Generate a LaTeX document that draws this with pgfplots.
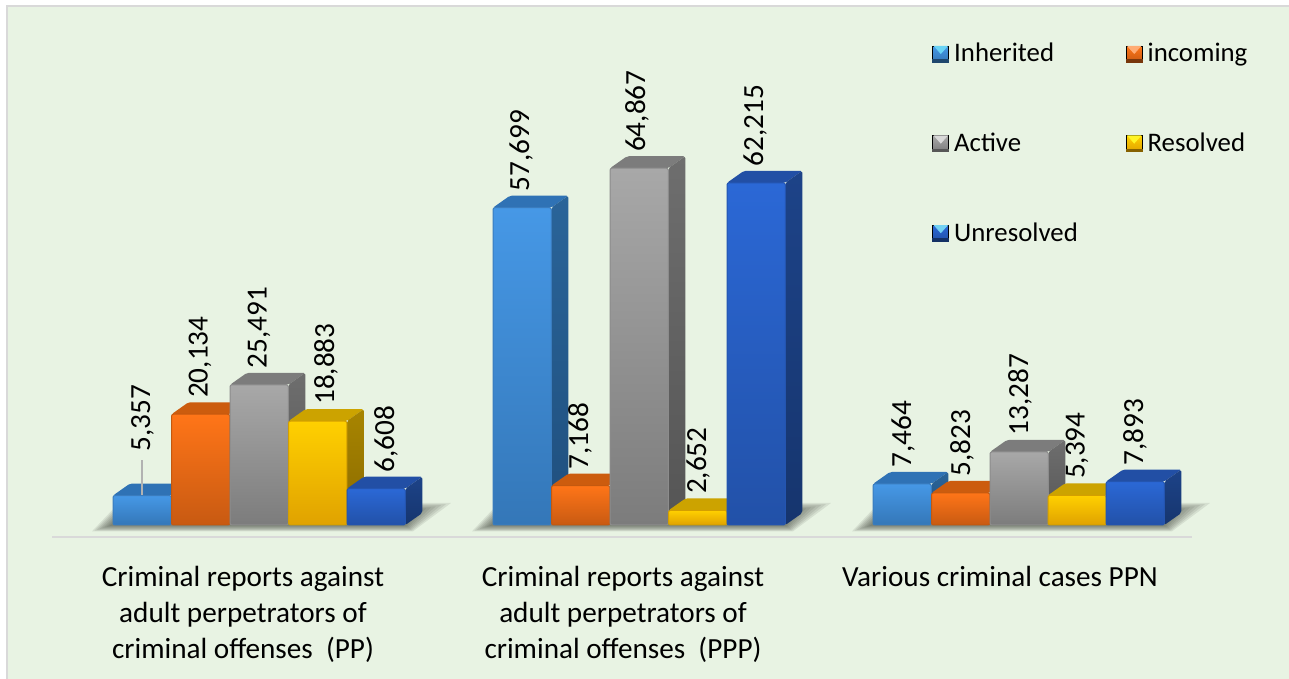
\documentclass[border=0pt]{standalone}
\usepackage{pgfplots}
\pgfplotsset{compat=1.18}
\usepackage{pgfplotstable}
\usepackage{fontspec}
\setmainfont{Carlito}
\definecolor{bgc}{HTML}{E8F3E3}
\definecolor{frame}{HTML}{D9D9D9}
\definecolor{shad}{HTML}{3C4238}
% colour sets: front top, front bottom, top face, side top, side bottom, edge
\definecolor{aFa}{HTML}{4698E6}\definecolor{aFb}{HTML}{3477B8}\definecolor{aT}{HTML}{2F72B5}\definecolor{aSa}{HTML}{2A6499}\definecolor{aSb}{HTML}{1F4F7E}\definecolor{aE}{HTML}{3A7CBE}
\definecolor{bFa}{HTML}{FF7518}\definecolor{bFb}{HTML}{C85A12}\definecolor{bT}{HTML}{CC5C0E}\definecolor{bSa}{HTML}{A84D0C}\definecolor{bSb}{HTML}{8A3F0A}\definecolor{bE}{HTML}{C4590F}
\definecolor{cFa}{HTML}{A8A8A8}\definecolor{cFb}{HTML}{7C7C7C}\definecolor{cT}{HTML}{7C7C7C}\definecolor{cSa}{HTML}{6E6E6E}\definecolor{cSb}{HTML}{555555}\definecolor{cE}{HTML}{8C8C8C}
\definecolor{dFa}{HTML}{FFD000}\definecolor{dFb}{HTML}{E0A200}\definecolor{dT}{HTML}{CCA300}\definecolor{dSa}{HTML}{A88500}\definecolor{dSb}{HTML}{8A6A00}\definecolor{dE}{HTML}{D49F00}
\definecolor{eFa}{HTML}{2B68D6}\definecolor{eFb}{HTML}{2251A8}\definecolor{eT}{HTML}{224FA5}\definecolor{eSa}{HTML}{1D4388}\definecolor{eSb}{HTML}{16356E}\definecolor{eE}{HTML}{2455B0}
% one bar: left pixel column, value in thousands, colour set
\newcommand\tdbar[3]{%
  \pgfmathsetmacro\xa{#1+58.3}\pgfmathsetmacro\xb{#1+17}\pgfmathsetmacro\xc{#1+75.3}\pgfmathsetmacro\vt{#2+2.18}%
  \edef\doit{%
    \noexpand\addplot[fill=#3T,draw=none,forget plot,rounded corners=1pt] coordinates {(#1,#2)(\xa,#2)(\xc,\vt)(\xb,\vt)} -- cycle;
    \noexpand\addplot[top color=#3Sa,bottom color=#3Sb,draw=none,forget plot,rounded corners=1pt] coordinates {(\xa,0)(\xc,2.18)(\xc,\vt)(\xa,#2)} -- cycle;
    \noexpand\addplot[top color=#3Fa,bottom color=#3Fb,draw=#3E,line width=0.5pt,forget plot,rounded corners=1pt] coordinates {(#1,0)(\xa,0)(\xa,#2)(#1,#2)} -- cycle;
  }\doit}
% soft floor shadow under a group
\newcommand\floorshadow[2]{%
  \foreach \k in {0,1,2,3,4,5,6,7}{%
    \pgfmathsetmacro\la{#1-21+2.5*\k}\pgfmathsetmacro\lb{#1+6+1.0*\k}\pgfmathsetmacro\ra{#2+8-1*\k}\pgfmathsetmacro\rb{#2+46-5*\k}%
    \pgfmathsetmacro\ya{-1.15+0.14*\k}\pgfmathsetmacro\yb{4.0-0.2*\k}%
    \edef\doit{\noexpand\fill[shad,opacity=0.11] (axis cs:\la,\ya)--(axis cs:\lb,\yb)--(axis cs:\rb,\yb)--(axis cs:\ra,\ya)--cycle;}\doit}}
\newcommand\legsq[4]{\fill[top color=#1,bottom color=#2] (0,-4pt) rectangle (8pt,4pt);
  \fill[#3] (0.8pt,4pt)--(7.2pt,4pt)--(4pt,0.4pt)--cycle;
  \fill[#4] (0,-4pt) rectangle (8pt,-2.6pt);}
\pgfplotstableread{
x v label
142.5 10.35 5,357
200 20.134 20,134
259 25.491 25,491
326 18.883 18,883
386 6.608 6,608
521 57.699 57,699
580 7.168 7,168
637 64.867 64,867
698 2.652 2,652
755 62.215 62,215
903 7.464 7,464
962 5.823 5,823
1020 13.287 13,287
1077 5.394 5,394
1135 7.893 7,893
}\labels
\begin{document}
\begin{tikzpicture}
\begin{axis}[
  scale only axis,width=570pt,height=268.5pt,
  xmin=52,xmax=1192,ymin=-2.1818,ymax=95.4545,
  clip=false,axis on top=true,no marks,
  axis x line=bottom,axis y line=none,
  axis line style={-,draw=frame,line width=1pt},
  xtick={243,623,1000},major tick length=0pt,
  xticklabels={{Criminal reports against\\adult perpetrators of\\criminal offenses~ (PP)},{Criminal reports against\\adult perpetrators of\\criminal offenses~ (PPP)},{Various criminal cases PPN}},
  xticklabel style={align=center,font=\fontsize{14.6}{18}\selectfont,anchor=north,yshift=-11pt,text=black},
  legend columns=2,
  legend cell align=left,
  legend style={at={(axis cs:932,88)},anchor=north west,draw=none,fill=none,inner sep=0pt,
    font=\fontsize{13.4}{15}\selectfont,row sep=32pt,
    /tikz/column 2/.style={column sep=21.5pt},
    nodes={inner xsep=2.5pt,inner ysep=1pt}},
]
\fill[white] (axis cs:0,95.4545) rectangle (axis cs:1289,-28);
\fill[frame] (axis cs:6,94.545) rectangle (axis cs:1289,-28);
\fill[bgc] (axis cs:8,94.18) rectangle (axis cs:1289,-28);
\floorshadow{113}{405}
\floorshadow{493}{785}
\floorshadow{873}{1164}
% group 1
\tdbar{113}{5.357}{a}\tdbar{171.5}{20.134}{b}\tdbar{230}{25.491}{c}\tdbar{288.5}{18.883}{d}\tdbar{347}{6.608}{e}
% group 2
\tdbar{493}{57.699}{a}\tdbar{551.5}{7.168}{b}\tdbar{610}{64.867}{c}\tdbar{668.5}{2.652}{d}\tdbar{727}{62.215}{e}
% group 3
\tdbar{873}{7.464}{a}\tdbar{931.5}{5.823}{b}\tdbar{990}{13.287}{c}\tdbar{1048}{5.394}{d}\tdbar{1106}{7.893}{e}
\addplot[color=black!30,line width=0.7pt,forget plot] coordinates {(142,5.45)(142,11.8)};
\addplot[draw=none,forget plot,
  nodes near coords,point meta=explicit symbolic,
  nodes near coords style={font=\fontsize{14.6}{15}\selectfont,yshift=8pt,rotate=90,anchor=west,inner sep=0pt,text=black}]
  table[x=x,y=v,meta=label] {\labels};
\addlegendimage{legend image code/.code={\legsq{aFa}{aFb}{aFa!60!cyan!70!white}{aFb!60!black}}}\addlegendentry{Inherited}
\addlegendimage{legend image code/.code={\legsq{bFa}{bFb}{bFa!60!white}{bFb!60!black}}}\addlegendentry{incoming}
\addlegendimage{legend image code/.code={\legsq{cFa}{cFb}{white!85!black}{cFb!70!black}}}\addlegendentry{Active}
\addlegendimage{legend image code/.code={\legsq{dFa}{dFb}{yellow!85!white}{dFb!60!black}}}\addlegendentry{Resolved}
\addlegendimage{legend image code/.code={\legsq{eFa}{eFb}{eFa!50!cyan!60!white}{eFb!60!black}}}\addlegendentry{Unresolved}
\end{axis}
\end{tikzpicture}
\end{document}
